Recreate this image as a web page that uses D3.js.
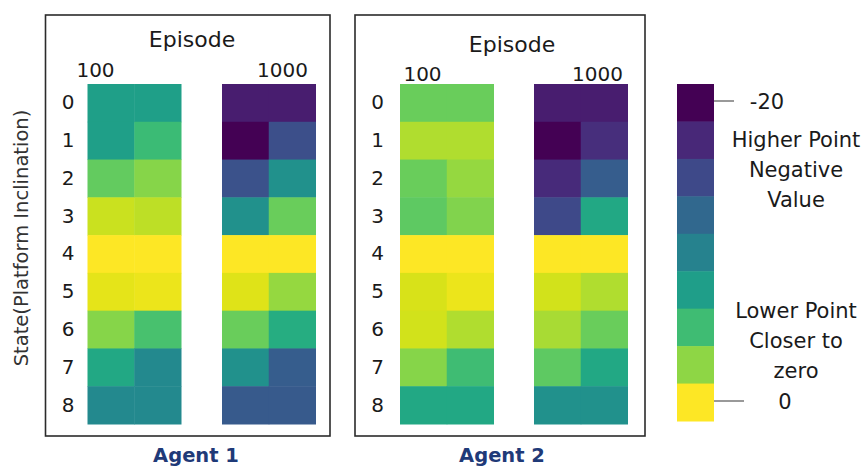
<!DOCTYPE html>
<html>
<head>
<meta charset="utf-8">
<script src="https://cdn.jsdelivr.net/npm/d3@7"></script>
<style>
  body { margin: 0; background: #fff; }
  text { font-family: "DejaVu Sans", "Liberation Sans", Arial, sans-serif; }
</style>
</head>
<body>
<div id="my_dataviz"></div>
<script>
// reward per state (rows 0-8), two sub-columns per episode, range -20 .. 0
const states = [0, 1, 2, 3, 4, 5, 6, 7, 8];
const episodes = ["100", "1000"];
const agents = ["Agent 1", "Agent 2"];

const agent1Ep100 = [[-8.8, -8.8], [-8.8, -6.4], [-4.8, -3.6], [-1.6, -2.0], [0, 0],
    [-0.8, -0.6], [-3.6, -5.8], [-8.0, -10.6], [-10.6, -10.6]];
const agent1Ep1000 = [[-18.4, -18.4], [-20, -15.2], [-15.0, -10.0], [-10.0, -4.6], [0, 0],
    [-1.0, -3.2], [-4.6, -7.6], [-10.0, -14.2], [-14.4, -14.4]];
const agent2Ep100 = [[-4.6, -4.6], [-2.4, -2.4], [-4.6, -3.2], [-5.0, -3.8], [0, 0],
    [-1.2, -0.6], [-1.4, -2.4], [-3.6, -6.2], [-8.0, -8.0]];
const agent2Ep1000 = [[-18.4, -18.4], [-20, -17.4], [-17.6, -14.2], [-15.6, -8.0], [0, 0],
    [-1.4, -2.4], [-2.6, -4.6], [-5.0, -8.0], [-10.0, -10.0]];

// colorbar bins, top to bottom
const legendSteps = [-20, -17.8, -15.6, -13.3, -11.1, -8.9, -6.2, -3.4, 0];
const legendTicks = [-20, 0];

const width = 868, height = 468;

const svg = d3.select("#my_dataviz")
    .append("svg")
    .attr("width", width)
    .attr("height", height);

const color = d3.scaleSequential(d3.interpolateViridis).domain([-20, 0]);

const yScale = d3.scaleBand()
    .domain(states)
    .range([84, 424]);

// layout of the two panels
const layout = [
    {box: [45.5, 15, 330, 436], blocks: [87.5, 222], epX: [95, 282], epY: 77,
        titleX: 192, titleY: 47, labelPad: 13, agentX: 196, data: [agent1Ep100, agent1Ep1000]},
    {box: [355, 15, 645, 436], blocks: [400, 534], epX: [422, 597], epY: 81,
        titleX: 512, titleY: 52, labelPad: 16, agentX: 502, data: [agent2Ep100, agent2Ep1000]}
];
const blockW = 93.5;

layout.forEach(function (p, k) {
    const g = svg.append("g");

    g.append("rect")
        .attr("x", p.box[0])
        .attr("y", p.box[1])
        .attr("width", p.box[2] - p.box[0])
        .attr("height", p.box[3] - p.box[1])
        .attr("fill", "none")
        .attr("stroke", "#2b2b2b")
        .attr("stroke-width", 1.6);

    // the two heat blocks (episode 100 and 1000)
    p.data.forEach(function (block, b) {
        const xScale = d3.scaleBand()
            .domain([0, 1])
            .range([p.blocks[b], p.blocks[b] + blockW]);
        const cells = [];
        block.forEach((row, i) => row.forEach((v, j) => cells.push({state: states[i], col: j, value: v})));
        g.selectAll(null)
            .data(cells)
            .enter().append("rect")
            .attr("x", d => xScale(d.col))
            .attr("y", d => yScale(d.state))
            .attr("width", xScale.bandwidth() + 0.5)
            .attr("height", yScale.bandwidth() + 0.5)
            .attr("fill", d => color(d.value));
    });

    // state labels
    const yAxis = g.append("g")
        .attr("transform", `translate(${p.blocks[0]},0)`)
        .call(d3.axisLeft(yScale).tickSize(0).tickPadding(p.labelPad));
    yAxis.select(".domain").remove();
    yAxis.selectAll("text")
        .attr("font-family", "DejaVu Sans")
        .attr("font-size", "20px")
        .attr("fill", "#1a1a1a");

    // episode labels
    const epScale = d3.scalePoint().domain(episodes).range(p.epX);
    const epAxis = g.append("g")
        .attr("transform", `translate(0,${p.epY})`)
        .call(d3.axisTop(epScale).tickSize(0).tickPadding(0));
    epAxis.select(".domain").remove();
    epAxis.selectAll("text")
        .attr("font-family", "DejaVu Sans")
        .attr("font-size", "20px")
        .attr("fill", "#1a1a1a")
        .attr("dy", 0);

    g.append("text")
        .attr("x", p.titleX)
        .attr("y", p.titleY)
        .attr("text-anchor", "middle")
        .attr("font-size", "22px")
        .attr("fill", "#1a1a1a")
        .text("Episode");

    g.append("text")
        .attr("x", p.agentX)
        .attr("y", 462)
        .attr("text-anchor", "middle")
        .attr("font-size", "19.5px")
        .attr("font-weight", "bold")
        .attr("fill", "#1f3a78")
        .text(agents[k]);
});

// y title
svg.append("text")
    .attr("transform", "translate(28,238) rotate(-90)")
    .attr("text-anchor", "middle")
    .attr("font-size", "19.5px")
    .attr("fill", "#333")
    .text("State(Platform Inclination)");

// colorbar
const legendY = d3.scaleBand()
    .domain(d3.range(legendSteps.length))
    .range([84, 421]);
const legend = svg.append("g");
legend.selectAll(null)
    .data(legendSteps)
    .enter().append("rect")
    .attr("x", 677)
    .attr("y", (d, i) => legendY(i))
    .attr("width", 37)
    .attr("height", legendY.bandwidth() + 0.5)
    .attr("fill", d => color(d));

const tickY = d3.scaleLinear().domain([-20, 0]).range([101, 401]);
legend.selectAll(null)
    .data(legendTicks)
    .enter().append("line")
    .attr("x1", 714)
    .attr("x2", d => d === 0 ? 744 : 734)
    .attr("y1", d => tickY(d))
    .attr("y2", d => tickY(d))
    .attr("stroke", "#999")
    .attr("stroke-width", 2);
legend.selectAll(null)
    .data(legendTicks)
    .enter().append("text")
    .attr("x", d => d === 0 ? 785 : 767)
    .attr("y", d => tickY(d))
    .attr("dy", "0.36em")
    .attr("text-anchor", "middle")
    .attr("font-size", "21px")
    .attr("fill", "#1a1a1a")
    .text(d => d);

const notes = [
    {lines: ["Higher Point", "Negative", "Value"], y: 147},
    {lines: ["Lower Point", "Closer to", "zero"], y: 318}
];
notes.forEach(function (n) {
    legend.append("g").selectAll("text")
        .data(n.lines)
        .enter().append("text")
        .attr("x", 796)
        .attr("y", (d, i) => n.y + i * 30)
        .attr("text-anchor", "middle")
        .attr("font-size", "21px")
        .attr("fill", "#1a1a1a")
        .text(d => d);
});
</script>
</body>
</html>
